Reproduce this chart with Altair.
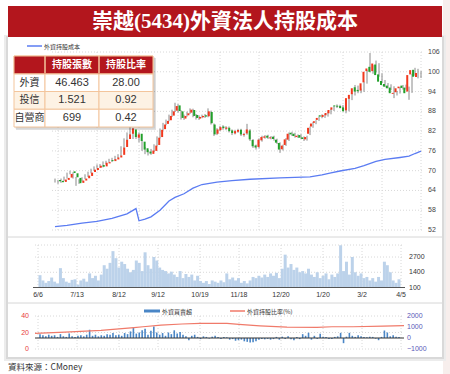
import altair as alt
import pandas as pd

# ---------------- data ----------------
title_text = "崇越(5434)外資法人持股成本"
source_text = "資料來源：CMoney"

# daily candles (price)
opens = [67.2, 66.9, 66.6, 67.2, 67.9, 69.8, 69.2, 67.8, 66.3, 67.0,
         67.7, 68.4, 69.6, 70.2, 70.9, 71.7, 71.3, 72.2, 73.2, 72.9,
         73.4, 74.0, 74.8, 77.2, 79.6, 81.2, 82.5, 80.0, 81.2, 78.8,
         76.8, 75.8, 75.1, 76.0, 77.8, 80.2, 82.6, 84.2, 85.3, 86.7,
         88.2, 89.8, 88.0, 85.8, 86.8, 87.6, 88.4, 86.9, 85.8, 86.2,
         86.8, 86.5, 87.8, 84.0, 81.2, 82.3, 83.4, 82.7, 83.0, 82.2,
         81.3, 81.8, 82.4, 80.8, 81.3, 82.2, 79.3, 77.6, 77.2, 79.2,
         80.0, 80.6, 79.8, 80.3, 79.4, 78.4, 76.5, 77.8, 79.4, 81.5,
         81.2, 80.2, 80.8, 80.1, 79.5, 81.2, 83.4, 84.5, 85.4, 86.8,
         86.3, 86.8, 87.4, 88.5, 89.8, 89.7, 89.6, 89.2, 88.3, 91.8,
         93.2, 95.3, 94.5, 94.3, 96.8, 100.2, 101.5, 100.2, 102.2, 99.2,
         97.2, 96.3, 95.8, 95.2, 93.3, 93.8, 95.0, 95.8, 95.2, 94.0,
         99.2, 100.6, 98.4]
closes = [66.8, 66.5, 67.3, 67.8, 69.0, 69.3, 68.0, 66.2, 67.0, 67.6,
          68.5, 69.4, 70.3, 70.8, 71.5, 71.2, 72.4, 72.6, 72.9, 73.5,
          74.0, 74.6, 77.0, 79.4, 81.0, 82.8, 80.2, 81.0, 79.0, 76.4,
          75.6, 75.2, 76.1, 77.6, 80.0, 82.4, 84.0, 85.1, 86.6, 88.0,
          89.6, 88.1, 86.0, 86.6, 87.4, 88.5, 86.6, 86.0, 86.3, 86.6,
          86.4, 88.0, 84.4, 81.0, 82.5, 83.2, 82.9, 83.1, 82.0, 81.4,
          82.0, 82.3, 81.0, 81.1, 82.5, 79.5, 77.4, 77.0, 79.4, 80.2,
          80.4, 80.0, 80.1, 79.6, 78.5, 76.4, 77.6, 79.5, 81.2, 81.0,
          80.5, 80.6, 80.0, 79.6, 80.2, 83.0, 84.3, 85.0, 86.0, 86.4,
          86.9, 87.5, 88.4, 89.2, 89.5, 89.4, 89.0, 88.0, 92.0, 93.0,
          95.0, 94.0, 94.1, 96.5, 100.0, 101.0, 100.0, 102.5, 99.0, 97.0,
          96.0, 95.5, 95.0, 93.5, 93.6, 95.0, 95.5, 95.1, 93.5, 99.0,
          100.5, 98.5, 99.6]
highs = [67.6, 67.2, 67.6, 68.2, 69.4, 70.0, 69.5, 68.1, 67.4, 68.0,
         68.9, 69.7, 70.6, 71.3, 71.9, 72.0, 72.8, 73.0, 73.6, 73.9,
         74.5, 75.0, 77.4, 79.8, 81.6, 83.6, 83.0, 81.8, 81.6, 79.2,
         77.2, 76.3, 76.6, 78.0, 80.4, 82.8, 84.5, 85.5, 87.0, 88.5,
         90.6, 90.2, 88.3, 87.0, 87.9, 88.9, 88.8, 87.2, 86.8, 87.0,
         87.2, 88.9, 88.2, 84.3, 82.9, 83.6, 83.8, 83.5, 83.4, 82.5,
         82.4, 82.7, 82.7, 81.5, 84.2, 82.6, 79.6, 77.9, 79.8, 80.6,
         80.8, 80.9, 80.5, 80.6, 79.7, 78.6, 77.9, 79.9, 81.6, 81.8,
         81.5, 81.0, 81.1, 80.4, 80.6, 83.4, 84.7, 85.3, 86.4, 87.1,
         87.2, 88.0, 88.7, 89.6, 90.1, 90.0, 89.9, 89.4, 92.3, 93.5,
         96.0, 95.8, 94.9, 97.0, 100.5, 105.7, 102.0, 103.4, 102.6, 99.5,
         97.5, 96.6, 96.2, 95.6, 94.2, 95.4, 96.0, 96.1, 95.5, 99.4,
         101.2, 100.9, 100.2]
lows = [66.4, 66.0, 66.3, 66.9, 67.6, 68.9, 67.6, 65.4, 66.0, 66.7,
        67.4, 68.1, 69.2, 69.9, 70.6, 70.8, 71.0, 71.9, 72.5, 72.6,
        73.1, 73.7, 74.5, 76.8, 79.2, 80.8, 79.6, 79.6, 78.6, 76.0,
        75.0, 74.6, 74.8, 75.7, 77.4, 79.8, 82.2, 83.8, 85.0, 86.3,
        87.8, 87.6, 85.5, 85.4, 86.4, 87.2, 86.2, 85.5, 85.4, 85.9,
        86.0, 86.2, 84.0, 80.5, 80.8, 82.0, 82.4, 82.3, 81.6, 80.8,
        81.0, 81.5, 80.5, 80.3, 80.9, 79.0, 76.9, 76.4, 76.8, 78.8,
        79.7, 79.6, 79.5, 79.1, 78.1, 75.4, 76.1, 77.5, 79.0, 80.5,
        80.0, 79.9, 79.6, 79.0, 79.1, 80.8, 83.0, 84.1, 85.1, 85.9,
        86.0, 86.4, 87.1, 88.1, 89.0, 88.9, 88.6, 87.4, 88.0, 91.4,
        92.8, 93.5, 93.5, 93.9, 96.4, 99.8, 99.4, 99.8, 98.5, 96.6,
        95.4, 95.0, 94.4, 92.0, 92.8, 93.4, 94.6, 94.6, 91.5, 93.6,
        98.8, 98.0, 98.1]

# foreign-investor holding cost line (day index, value)
cost_idx = [0, 4, 9, 14, 19, 24, 27, 28, 30, 32, 35, 38, 40, 43, 46, 49, 54,
            59, 65, 75, 85, 89, 92, 95, 100, 103, 107, 110, 115, 118, 120, 122]
cost_val = [53.0, 53.4, 54.1, 54.6, 55.5, 56.9, 58.5, 54.8, 55.3, 56.0, 58.0,
            60.8, 61.9, 63.0, 64.7, 65.8, 66.5, 67.0, 67.4, 67.8, 68.1, 68.7,
            69.3, 69.9, 70.7, 71.5, 72.8, 73.4, 74.0, 74.4, 75.2, 75.9]

# daily volume (lots)
volumes = [1150, 700, 500, 650, 950, 600, 450, 1750, 900, 600,
           500, 750, 800, 350, 700, 850, 600, 1300, 900, 1100,
           700, 1200, 2000, 1700, 2200, 3200, 2600, 1800, 2300, 2100,
           1700, 1400, 1600, 2400, 2200, 1500, 3100, 2000, 1700, 2700,
           2400, 1800, 1600, 1500, 1300, 1450, 1200, 1000, 1500, 900,
           1250, 1000, 1200, 700, 1100, 650, 500, 650, 400, 700,
           600, 500, 700, 550, 1300, 800, 950, 700, 900, 500,
           650, 450, 700, 1000, 900, 1100, 950, 1200, 1000, 1300,
           1100, 1350, 900, 1700, 2900, 1800, 2100, 1600, 1800, 1400,
           1500, 1300, 1700, 1200, 1000, 1400, 900, 1100, 1300, 800,
           1200, 1000, 1300, 3700, 1500, 2300, 1200, 2700, 1400, 1100,
           1300, 900, 1000, 700, 900, 600, 1000, 700, 2300, 2000,
           1400, 700, 500, 800]

# foreign net buy/sell (lots)
buysell = [350, 250, 150, 300, 200, 250, 100, 350, 150, 100,
           400, 150, 100, 200, 250, 150, 300, 750, 200, 300,
           150, 250, 200, 350, 300, 450, 250, 300, 200, 450,
           350, 600, 950, 400, 500, 700, 850, 300, 650, 1050,
           500, 300, 450, 200, 500, 350, 700, 400, 550, 300,
           150, -200, 200, 300, 100, -100, 150, 100, -50, 120,
           200, 80, -80, 100, 60, -150, -100, -250, -200, -150,
           -300, -350, -400, -380, -300, -150, -100, -120, -80, -150,
           -100, 100, -150, 120, -100, 150, -120, -200, 80, -100,
           350, 200, 480, -150, 200, -80, 380, 120, 80, -100,
           -80, 100, 150, 470, -470, 120, 470, 200, 100, 250,
           150, 80, 60, 120, 100, -60, -200, 100, 680, 500,
           150, 250, 120, 100]

# foreign holding ratio (%) (day index, value)
ratio_idx = [0, 10, 22, 27, 33, 36, 42, 49, 55, 64, 68, 75, 84, 94, 99, 106, 116, 123]
ratio_val = [19.0, 20.5, 22.5, 24.0, 26.0, 27.0, 29.0, 30.3, 31.0, 31.0, 29.8,
             28.0, 26.4, 26.3, 27.0, 27.0, 27.8, 28.4]

date_labels = ["6/6", "7/13", "8/12", "9/12", "10/19", "11/18", "12/20", "1/20", "3/2", "4/5"]
date_idx = [1, 14, 28, 41, 55, 68, 82, 96, 109, 122]
price_ticks = [52, 58, 64, 70, 76, 82, 88, 94, 100, 106]
vol_ticks = [100, 1400, 2700]
ratio_ticks = [0, 20, 40]
bs_ticks = [-1000, 0, 1000, 2000]

tbl_rows = ["外資", "投信", "自營商"]
tbl_shares = ["46.463", "1.521", "699"]
tbl_ratios = ["28.00", "0.92", "0.42"]
tbl_headers = ["持股張數", "持股比率"]

legend_cost = "外資持股成本"
legend_bs = "外資買賣超"
legend_ratio = "外資持股比率(%)"

# ---------------- styling ----------------
RED = "#b3161d"
CJK = "Noto Sans CJK TC"
SERIF_CJK = "Liberation Serif, Noto Sans CJK TC"
LAT = "Liberation Sans"

cx = alt.Scale(domain=[0, 122], range=[55, 421], nice=False, zero=False)
py = alt.Scale(domain=[52, 106], range=[230, 52], nice=False, zero=False)
vx = alt.Scale(domain=[0, 123], range=[35, 404], nice=False, zero=False)
vy = alt.Scale(domain=[100, 2700], range=[287.5, 257], nice=False, zero=False)
ry = alt.Scale(domain=[0, 40], range=[349, 316], nice=False, zero=False)
by = alt.Scale(domain=[-1000, 2000], range=[349, 316], nice=False, zero=False)

candles = pd.DataFrame({"i": list(range(len(closes))), "open": opens,
                        "close": closes, "high": highs, "low": lows})
cost = pd.DataFrame({"i": cost_idx, "v": cost_val})
vol = pd.DataFrame({"i": list(range(len(volumes))), "v": volumes, "base": [100] * len(volumes)})
bs = pd.DataFrame({"i": list(range(len(buysell))), "v": buysell, "base": [0] * len(buysell)})
ratio = pd.DataFrame({"i": ratio_idx, "v": ratio_val})
dates = pd.DataFrame({"i": date_idx, "t": date_labels})
pt = pd.DataFrame({"v": price_ticks})
vt = pd.DataFrame({"v": vol_ticks})
rt = pd.DataFrame({"v": ratio_ticks})
bt = pd.DataFrame({"v": bs_ticks})
one = pd.DataFrame({"a": [0]})
tbl = pd.DataFrame({"row": tbl_rows, "shares": tbl_shares, "ratio": tbl_ratios})
hdr = pd.DataFrame({"row": ["head", "head"], "col": tbl_headers})

row_scale = alt.Scale(domain=["head"] + tbl_rows, range=[56, 127], paddingInner=0, paddingOuter=0)

def X(field, s):
    return alt.X(field, scale=s, axis=None)

def Y(field, s):
    return alt.Y(field, scale=s, axis=None)

def box(x1, x2, y1, y2, color, opacity=1.0):
    return alt.Chart(one).mark_rect(color=color, opacity=opacity).encode(
        x=alt.value(x1), x2=alt.value(x2), y=alt.value(y1), y2=alt.value(y2))

def hline(x1, x2, y, color, w=1.0, dash=None):
    kw = dict(color=color, strokeWidth=w)
    if dash:
        kw["strokeDash"] = dash
    return alt.Chart(one).mark_rule(**kw).encode(
        x=alt.value(x1), x2=alt.value(x2), y=alt.value(y))

def label(txt, x, y, size, color="#333", align="left", font=CJK, weight="normal"):
    return alt.Chart(pd.DataFrame({"t": [txt]})).mark_text(
        align=align, baseline="middle", fontSize=size, color=color, font=font,
        fontWeight=weight).encode(x=alt.value(x), y=alt.value(y), text="t:N")

layers = []
# background & frame shadows
layers.append(box(443, 450, 0, 374, "#f7eeec"))
layers.append(box(4, 446, 35, 361, "#ececec"))
layers.append(box(6, 444, 36, 359, "#d9d9d9"))
layers.append(box(8, 442, 37, 357, "white"))
# title banner
layers.append(box(8, 442, 6, 37, RED))
layers.append(label(title_text, 225, 22, 21, "white", "center", SERIF_CJK, "bold"))

# separators
layers.append(hline(8, 442, 237, "#d6d6d6"))
layers.append(hline(8, 442, 303, "#d6d6d6"))

dot = [1, 2]
gridc = "#d8d8d8"
# candle panel grid
layers.append(alt.Chart(pt).mark_rule(color=gridc, strokeDash=dot).encode(
    x=alt.value(52), x2=alt.value(423), y=Y("v:Q", py)))
layers.append(alt.Chart(dates).mark_rule(color=gridc, strokeDash=dot).encode(
    x=X("i:Q", cx), y=alt.value(52), y2=alt.value(230)))
layers.append(alt.Chart(pt).mark_text(align="left", baseline="middle", fontSize=7,
                                      color="#444", font=LAT).encode(
    x=alt.value(428), y=Y("v:Q", py), text="v:Q"))

# cost line
layers.append(alt.Chart(cost).mark_line(color="#5b7cf2", strokeWidth=1.3).encode(
    x=X("i:Q", cx), y=Y("v:Q", py)))

# candles
layers.append(alt.Chart(candles).mark_rule(color="#8a8a8a", strokeWidth=1).encode(
    x=X("i:Q", cx), y=Y("low:Q", py), y2="high:Q"))
layers.append(alt.Chart(candles).transform_calculate(
    d="datum.close >= datum.open ? 'up' : 'down'").mark_bar(size=2).encode(
    x=X("i:Q", cx), y=Y("open:Q", py), y2="close:Q",
    color=alt.Color("d:N", scale=alt.Scale(domain=["up", "down"], range=["#f2381d", "#22a02a"]),
                    legend=None)))

# top legend
layers.append(hline(27, 42, 46, "#5b7cf2", 1.5))
layers.append(label(legend_cost, 44, 46.5, 6, "#333"))

# table
layers.append(box(16, 156, 58, 130, "#000000", 0.12))
layers.append(box(15, 155, 57, 128.5, "#000000", 0.08))
for (x1, x2) in [(14, 45), (45, 99), (99, 153)]:
    layers.append(alt.Chart(tbl).mark_rect(stroke="#f3c59c", strokeWidth=1).encode(
        x=alt.value(x1), x2=alt.value(x2), y=alt.Y("row:N", scale=row_scale, axis=None),
        fill=alt.Fill("row:N", scale=alt.Scale(domain=tbl_rows, range=["white", "#fdf2e4", "white"]),
                      legend=None)))
layers.append(alt.Chart(hdr).mark_rect(fill=RED, stroke="#f3c59c", strokeWidth=1).encode(
    x=alt.value(14), x2=alt.value(153), y=alt.Y("row:N", scale=row_scale, axis=None)))
for xv in [45, 99]:
    layers.append(alt.Chart(hdr).mark_rule(color="#f3c59c", strokeWidth=1).encode(
        x=alt.value(xv), y=alt.value(56), y2=alt.value(73)))
layers.append(alt.Chart(hdr.iloc[[0]]).mark_text(fontSize=10, color="white", font=CJK,
                                                 fontWeight="bold", baseline="middle").encode(
    x=alt.value(72), y=alt.Y("row:N", scale=row_scale, axis=None), text="col:N"))
layers.append(alt.Chart(hdr.iloc[[1]]).mark_text(fontSize=10, color="white", font=CJK,
                                                 fontWeight="bold", baseline="middle").encode(
    x=alt.value(126), y=alt.Y("row:N", scale=row_scale, axis=None), text="col:N"))
layers.append(alt.Chart(tbl).mark_text(fontSize=10, color="#333", font=CJK, baseline="middle").encode(
    x=alt.value(29.5), y=alt.Y("row:N", scale=row_scale, axis=None), text="row:N",
    size=alt.Size("row:N", scale=alt.Scale(domain=tbl_rows, range=[10, 10, 7.5]), legend=None)))
layers.append(alt.Chart(tbl).mark_text(fontSize=11, color="#333", font=LAT, baseline="middle").encode(
    x=alt.value(72), y=alt.Y("row:N", scale=row_scale, axis=None), text="shares:N"))
layers.append(alt.Chart(tbl).mark_text(fontSize=11, color="#333", font=LAT, baseline="middle").encode(
    x=alt.value(126), y=alt.Y("row:N", scale=row_scale, axis=None), text="ratio:N"))

# volume panel
layers.append(alt.Chart(vt.iloc[1:]).mark_rule(color=gridc, strokeDash=dot).encode(
    x=alt.value(35), x2=alt.value(404), y=Y("v:Q", vy)))
layers.append(hline(35, 404, 245, gridc, 1, dot))
layers.append(alt.Chart(dates).mark_rule(color=gridc, strokeDash=dot).encode(
    x=X("i:Q", vx), y=alt.value(245), y2=alt.value(287.5)))
layers.append(alt.Chart(vol).mark_bar(size=3, color="#bcd2ea").encode(
    x=X("i:Q", vx), y=Y("v:Q", vy), y2="base:Q"))
layers.append(hline(33, 405, 287.5, "#555", 1))
layers.append(alt.Chart(vt).mark_text(align="left", baseline="middle", fontSize=7,
                                      color="#333", font=LAT).encode(
    x=alt.value(409), y=Y("v:Q", vy), text="v:Q"))
layers.append(alt.Chart(dates).mark_text(align="center", baseline="middle", fontSize=7,
                                         color="#333", font=LAT).encode(
    x=X("i:Q", vx), y=alt.value(295), text="t:N"))

# bottom panel
layers.append(alt.Chart(rt).mark_rule(color=gridc, strokeDash=dot).encode(
    x=alt.value(35), x2=alt.value(404), y=Y("v:Q", ry)))
layers.append(alt.Chart(dates).mark_rule(color=gridc, strokeDash=dot).encode(
    x=X("i:Q", vx), y=alt.value(316), y2=alt.value(349)))
layers.append(alt.Chart(bs).mark_bar(size=1.6, color="#4a86c6").encode(
    x=X("i:Q", vx), y=Y("v:Q", by), y2="base:Q"))
layers.append(alt.Chart(bs.iloc[[0, len(buysell) - 1]]).mark_line(color="#333", strokeWidth=1).encode(
    x=X("i:Q", vx), y=Y("base:Q", by)))
layers.append(alt.Chart(ratio).mark_line(color="#f07a6a", strokeWidth=1.2).encode(
    x=X("i:Q", vx), y=Y("v:Q", ry)))
layers.append(alt.Chart(rt).mark_text(align="right", baseline="middle", fontSize=7,
                                      color="#e8403a", font=LAT).encode(
    x=alt.value(29), y=Y("v:Q", ry), text="v:Q"))
layers.append(alt.Chart(bt).mark_text(align="left", baseline="middle", fontSize=7,
                                      color="#5a5ab8", font=LAT).encode(
    x=alt.value(407), y=Y("v:Q", by), text="v:Q"))
# bottom legend
layers.append(hline(144, 160, 311, "#4a86c6", 3))
layers.append(label(legend_bs, 162, 311.5, 6, "#333"))
layers.append(hline(230, 245, 311, "#f07a6a", 1.5))
layers.append(label(legend_ratio, 247, 311.5, 6, "#333"))

# source
layers.append(label(source_text, 8, 367, 8.5, "#333"))

chart = alt.layer(*layers).resolve_scale(
    x="independent", y="independent", color="independent", fill="independent", size="independent"
).properties(
    width=450, height=374, autosize=alt.AutoSizeParams(type="none"), padding=0
).configure(background="white").configure_view(strokeWidth=0)

chart.save("out.html", embed_options={"renderer": "svg", "actions": False})
